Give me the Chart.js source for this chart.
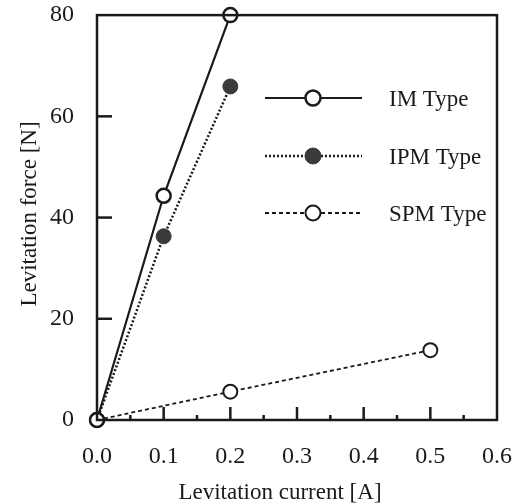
<!DOCTYPE html>
<html>
<head>
<meta charset="utf-8">
<script src="https://cdn.jsdelivr.net/npm/chart.js@4"></script>
<style>
  html, body { margin: 0; padding: 0; background: #fff; }
  #wrap { width: 527px; height: 504px; }
</style>
</head>
<body>
<div id="wrap"><canvas id="chart" width="527" height="504"></canvas></div>
<script>
const seriesNames = ["IM Type", "IPM Type", "SPM Type"];
const imCurrent = [0, 0.1, 0.2];
const imForce = [0, 44.3, 80];
const ipmCurrent = [0, 0.1, 0.2];
const ipmForce = [0, 36.3, 65.9];
const spmCurrent = [0, 0.2, 0.5];
const spmForce = [0, 5.6, 13.8];
const xTicks = [0, 0.1, 0.2, 0.3, 0.4, 0.5, 0.6];
const yTicks = [0, 20, 40, 60, 80];
const xTitle = 'Levitation current [A]';
const yTitle = 'Levitation force [N]';

const serif = "'Liberation Serif', 'DejaVu Serif', serif";
const ink = '#1a1a1a';

function pts(xs, ys) {
  return xs.map((x, i) => ({ x: x, y: ys[i] }));
}

// box, inward ticks, axis titles and in-plot legend
const framePlugin = {
  id: 'frame',
  afterDatasetsDraw(chart) {
    const ctx = chart.ctx;
    const a = chart.chartArea;
    const xs = chart.scales.x, ys = chart.scales.y;
    ctx.save();
    ctx.strokeStyle = ink;
    ctx.lineWidth = 2.5;
    ctx.setLineDash([]);
    ctx.strokeRect(a.left, a.top, a.right - a.left, a.bottom - a.top);

    xTicks.forEach((v, i) => {
      const px = xs.getPixelForValue(v);
      if (i > 0 && i < xTicks.length - 1) {
        ctx.beginPath(); ctx.moveTo(px, a.bottom); ctx.lineTo(px, a.bottom - 13); ctx.stroke();
      }
      if (i < xTicks.length - 1) {
        const mx = xs.getPixelForValue(v + 0.05);
        ctx.beginPath(); ctx.moveTo(mx, a.bottom); ctx.lineTo(mx, a.bottom - 5); ctx.stroke();
      }
    });
    yTicks.forEach((v, i) => {
      if (i === 0 || i === yTicks.length - 1) return;
      const py = ys.getPixelForValue(v);
      ctx.beginPath(); ctx.moveTo(a.left, py); ctx.lineTo(a.left + 15, py); ctx.stroke();
    });

    // axis titles (the x title sits left of centre in the original)
    ctx.fillStyle = ink;
    ctx.font = '23px ' + serif;
    ctx.textAlign = 'center';
    ctx.textBaseline = 'middle';
    ctx.fillText(xTitle, 280, 493);
    ctx.save();
    ctx.translate(30, 214);
    ctx.rotate(-Math.PI / 2);
    ctx.fillText(yTitle, 0, 0);
    ctx.restore();

    // legend
    const rows = [98, 156, 213];
    chart.data.datasets.forEach((ds, i) => {
      const y = rows[i];
      ctx.strokeStyle = ds.borderColor;
      ctx.lineWidth = ds.borderWidth;
      ctx.setLineDash(ds.borderDash || []);
      ctx.beginPath(); ctx.moveTo(265, y); ctx.lineTo(362, y); ctx.stroke();
      ctx.setLineDash([]);
      ctx.beginPath();
      ctx.arc(313, y, ds.pointRadius + 0.5, 0, Math.PI * 2);
      ctx.fillStyle = ds.pointBackgroundColor;
      ctx.fill();
      ctx.lineWidth = ds.pointBorderWidth;
      ctx.strokeStyle = ds.pointBorderColor;
      ctx.stroke();
      ctx.fillStyle = ink;
      ctx.font = '23px ' + serif;
      ctx.textBaseline = 'middle';
      ctx.textAlign = 'left';
      ctx.fillText(ds.label, 389, y + 2);
    });
    ctx.restore();
  }
};

const chart = new Chart(document.getElementById('chart'), {
  type: 'scatter',
  data: {
    datasets: [
      {
        label: seriesNames[0],
        data: pts(imCurrent, imForce),
        showLine: true,
        borderColor: ink,
        borderWidth: 2.2,
        pointRadius: 7,
        pointBackgroundColor: '#fff',
        pointBorderColor: ink,
        pointBorderWidth: 2.5
      },
      {
        label: seriesNames[1],
        data: pts(ipmCurrent, ipmForce),
        showLine: true,
        borderColor: ink,
        borderWidth: 2.5,
        borderDash: [2, 2],
        pointRadius: 7.5,
        pointBackgroundColor: '#3a3a3a',
        pointBorderColor: '#3a3a3a',
        pointBorderWidth: 1
      },
      {
        label: seriesNames[2],
        data: pts(spmCurrent, spmForce),
        showLine: true,
        borderColor: ink,
        borderWidth: 1.8,
        borderDash: [4, 3],
        pointRadius: 7,
        pointBackgroundColor: '#fff',
        pointBorderColor: ink,
        pointBorderWidth: 2
      }
    ]
  },
  options: {
    responsive: false,
    animation: false,
    clip: false,
    layout: { autoPadding: false, padding: { top: 0, right: 30, left: 0, bottom: 0 } },
    plugins: { legend: { display: false }, tooltip: { enabled: false } },
    scales: {
      x: {
        type: 'linear',
        min: 0, max: 0.6,
        afterBuildTicks: s => { s.ticks = xTicks.map(v => ({ value: v })); },
        afterFit: s => { s.height = 84; },
        grid: { display: false },
        border: { display: false },
        ticks: {
          color: ink,
          padding: 14,
          maxRotation: 0,
          font: { family: serif, size: 24 },
          callback: v => Number(v).toFixed(1)
        }
      },
      y: {
        type: 'linear',
        min: 0, max: 80,
        afterBuildTicks: s => { s.ticks = yTicks.map(v => ({ value: v })); },
        afterFit: s => { s.width = 97; },
        grid: { display: false },
        border: { display: false },
        ticks: {
          color: ink,
          padding: 15,
          font: { family: serif, size: 24, lineHeight: 0.01 }
        }
      }
    }
  },
  plugins: [framePlugin]
});
</script>
</body>
</html>
